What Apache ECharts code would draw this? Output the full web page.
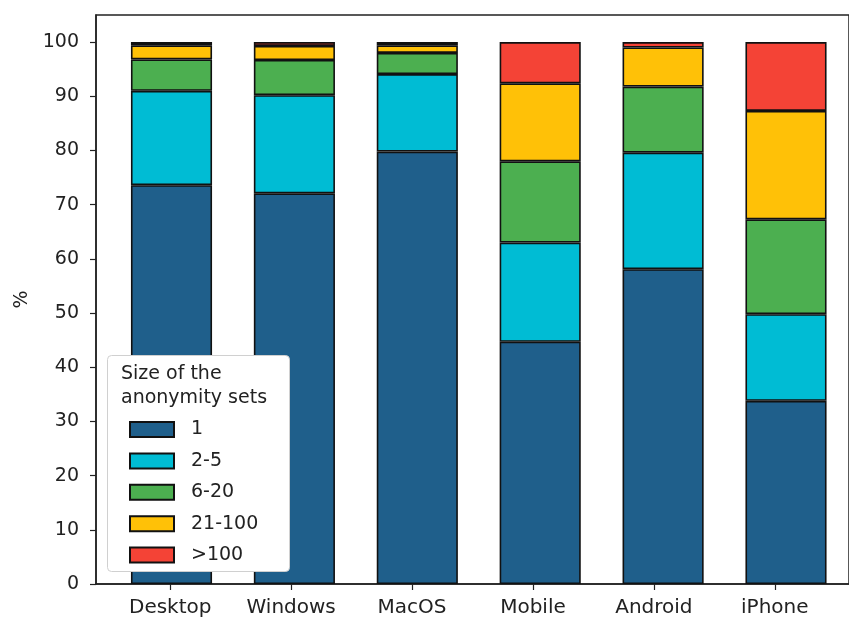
<!DOCTYPE html>
<html>
<head>
<meta charset="utf-8">
<script src="https://cdn.jsdelivr.net/npm/echarts@6/dist/echarts.min.js"></script>
<style>
  html, body { margin: 0; padding: 0; background: #ffffff; }
  #chart { width: 849px; height: 619px; }
</style>
</head>
<body>
<div id="chart"></div>
<script>
// Platforms on the x axis
const categories = ['Desktop', 'Windows', 'MacOS', 'Mobile', 'Android', 'iPhone'];

// Share (%) of fingerprints per anonymity-set size, one array per bucket
const set1       = [73.6, 72.1, 79.8, 44.7, 58.1, 33.8];
const set2to5    = [17.4, 18.1, 14.3, 18.3, 21.5, 16.0];
const set6to20   = [5.8, 6.5, 3.9, 15.0, 12.2, 17.5];
const set21to100 = [2.6, 2.6, 1.4, 14.4, 7.2, 20.0];
const setOver100 = [0.6, 0.7, 0.6, 7.6, 1.0, 12.7];

const seriesNames = ['1', '2-5', '6-20', '21-100', '>100'];
const seriesValues = [set1, set2to5, set6to20, set21to100, setOver100];
const seriesColors = ['#1f5f8b', '#00bcd4', '#4caf50', '#ffc107', '#f44336'];

// Y tick labels 0..100 step 10; the axis itself runs a little past 100
const yTickValues = [0, 10, 20, 30, 40, 50, 60, 70, 80, 90, 100];
const yLimits = { min: 0, max: 105 };
// Category positions in axis units, with a margin on both sides
const xLimits = { min: -0.614, max: 5.614 };

const FONT = 'DejaVu Sans';
const INK = '#222222';

const chart = echarts.init(document.getElementById('chart'), null, { renderer: 'canvas' });

const catIndex = categories.map((c, i) => i);

const series = seriesNames.map((name, k) => ({
  name: name,
  type: 'bar',
  stack: 'total',
  xAxisIndex: 1,
  yAxisIndex: 1,
  barWidth: '66%',
  data: seriesValues[k],
  itemStyle: { color: seriesColors[k], borderColor: '#111111', borderWidth: 1.6 },
  emphasis: { disabled: true }
}));

chart.setOption({
  animation: false,
  backgroundColor: '#ffffff',
  grid: [
    // frame with the visible axes
    {
      left: 96, top: 15, bottom: 35, right: -12.5,
      show: true, borderColor: INK, borderWidth: 1.5, backgroundColor: 'transparent'
    },
    // plotting area for the bars: one band per platform
    { left: 110.05, top: 15, bottom: 35, right: 1.55 }
  ],
  title: {
    text: 'Size of the\nanonymity sets',
    left: 116, top: 357,
    textStyle: { fontFamily: FONT, fontSize: 19, fontWeight: 'normal', color: INK, lineHeight: 24 }
  },
  legend: {
    orient: 'vertical',
    left: 107, top: 355,
    padding: [65, 10, 10, 22],
    itemWidth: 44, itemHeight: 15, itemGap: 12.4,
    icon: 'rect',
    data: seriesNames,
    selectedMode: false,
    textStyle: { fontFamily: FONT, fontSize: 19, color: INK, lineHeight: 18, padding: [0, 0, 0, 12] }
  },
  graphic: [{
    type: 'rect',
    left: 107, top: 355, z: 3,
    shape: { width: 182, height: 216, r: 4 },
    style: { fill: '#ffffff', stroke: '#d0d0d0', lineWidth: 1 }
  }],
  xAxis: [
    {
      gridIndex: 0,
      type: 'value',
      min: xLimits.min, max: xLimits.max,
      splitLine: { show: false },
      axisLine: { show: true, onZero: false, lineStyle: { color: INK, width: 1.5 } },
      axisTick: { show: true, customValues: catIndex, length: 6, lineStyle: { color: INK, width: 1.2 } },
      axisLabel: {
        customValues: catIndex,
        formatter: v => categories[Math.round(v)] || '',
        fontFamily: FONT, fontSize: 20, color: INK, margin: 14
      }
    },
    {
      gridIndex: 1,
      type: 'category',
      data: categories,
      show: false
    }
  ],
  yAxis: [
    {
      gridIndex: 0,
      type: 'value',
      min: yLimits.min, max: yLimits.max,
      name: '%', nameLocation: 'middle', nameGap: 64, nameRotate: 90,
      nameTextStyle: { fontFamily: FONT, fontSize: 19, color: INK },
      splitLine: { show: false },
      axisLine: { show: true, onZero: false, lineStyle: { color: INK, width: 1.5 } },
      axisTick: { show: true, customValues: yTickValues, length: 6, lineStyle: { color: INK, width: 1.2 } },
      axisLabel: { customValues: yTickValues, fontFamily: FONT, fontSize: 19, color: INK, margin: 17 }
    },
    {
      gridIndex: 1,
      type: 'value',
      min: yLimits.min, max: yLimits.max,
      show: false
    }
  ],
  series: series
});
</script>
</body>
</html>
